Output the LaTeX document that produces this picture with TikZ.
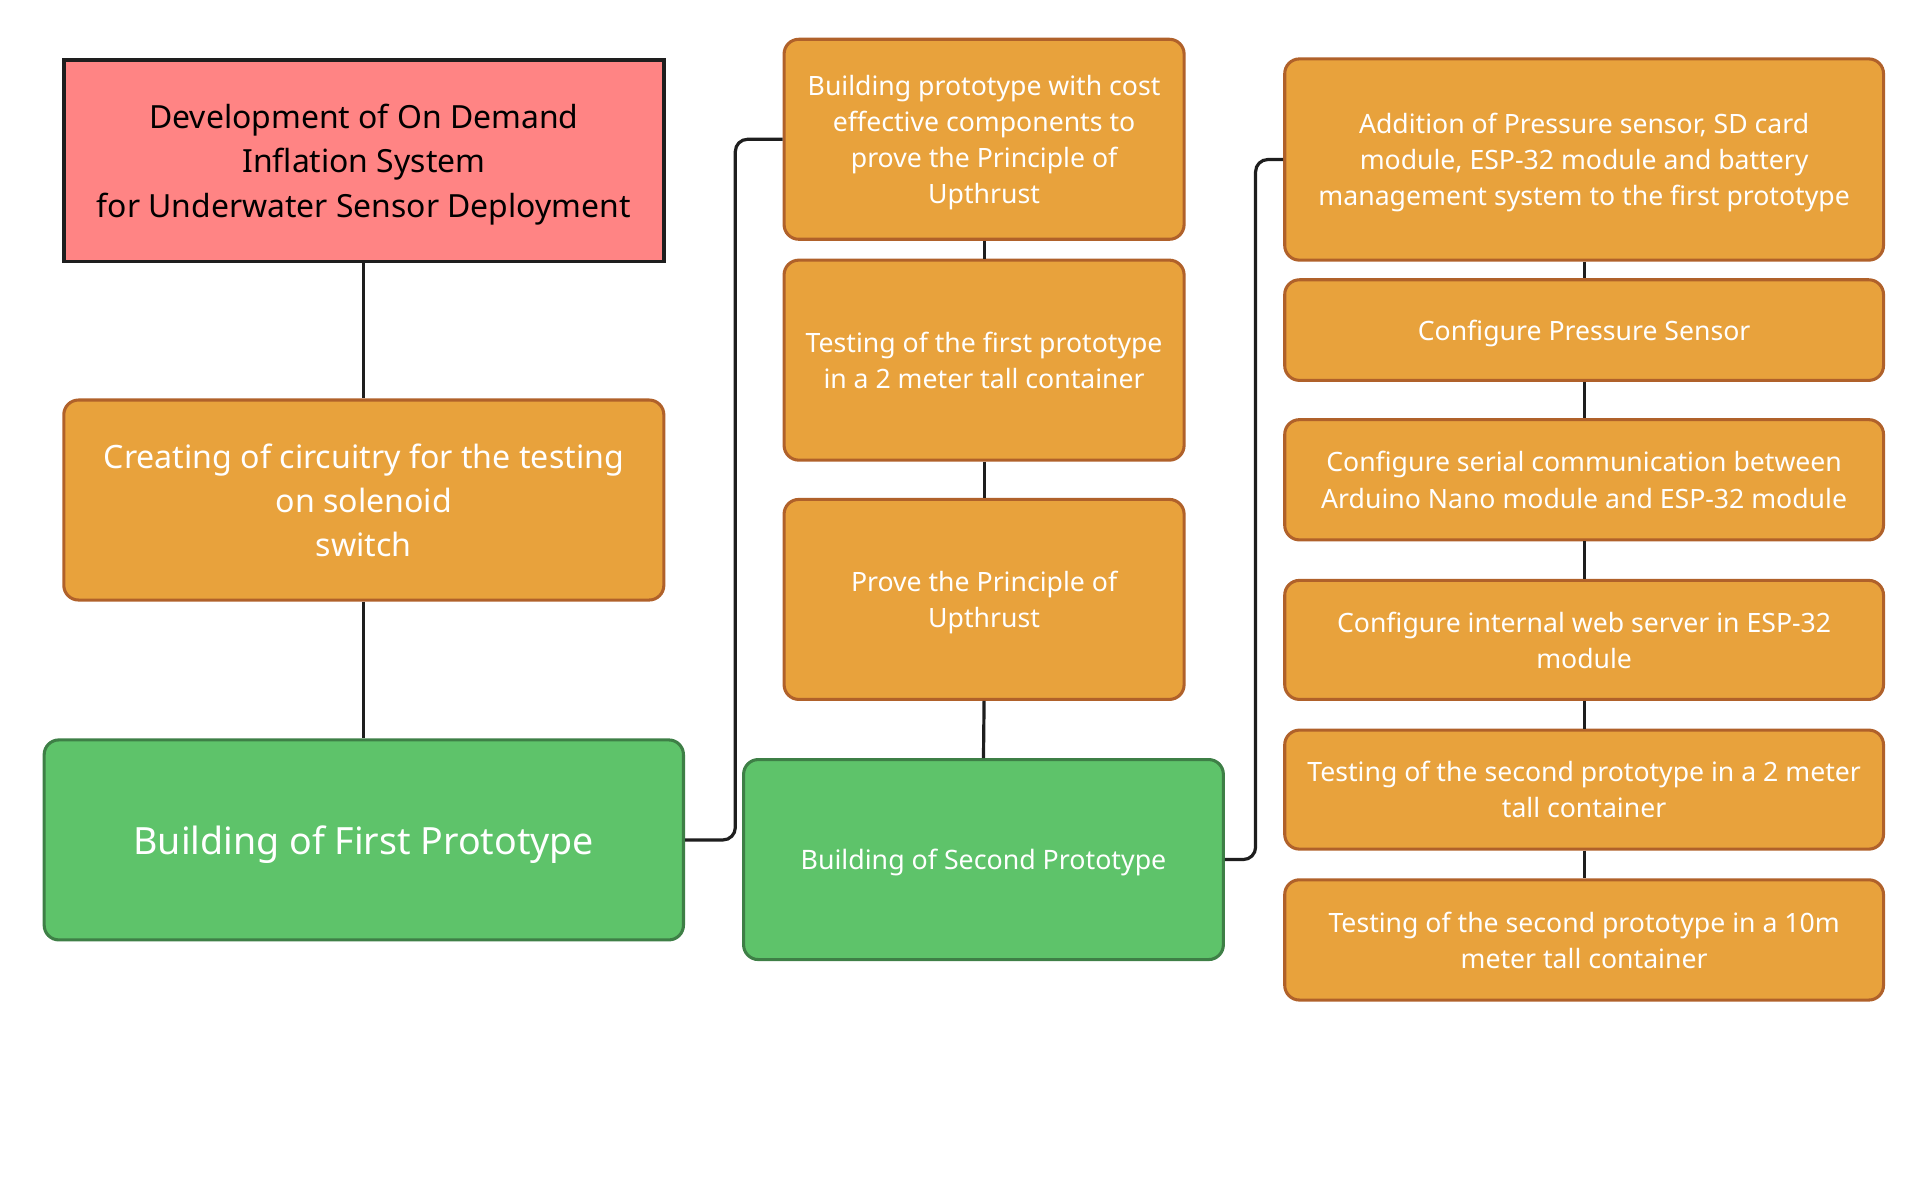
\documentclass[tikz,border=0pt]{standalone}
\usepackage{fontspec}
\setmainfont{Noto Sans}
\usetikzlibrary{calc}
\definecolor{rootred}{HTML}{FF8484}
\definecolor{taskorange}{HTML}{E8A23C}
\definecolor{taskedge}{HTML}{B0612A}
\definecolor{stagegreen}{HTML}{5EC36A}
\definecolor{stageedge}{HTML}{3E7F46}
\definecolor{linkblack}{HTML}{1E1E1E}
\tikzset{
	rootbox/.style={draw=linkblack, fill=rootred, line width=3pt, align=center, text=black,
		text depth=0pt, font=\fontsize{26}{36}\selectfont},
	taskbox/.style={draw=taskedge, fill=taskorange, line width=2.5pt, rounded corners=12pt,
		align=center, text=white, text depth=0pt, font=\fontsize{21.7}{29.5}\selectfont},
	stagebox/.style={draw=stageedge, fill=stagegreen, line width=2.5pt, rounded corners=12pt,
		align=center, text=white, text depth=0pt},
	link/.style={draw=linkblack, line width=2.6pt, rounded corners=10pt},
}
\begin{document}
\begin{tikzpicture}[x=1pt,y=-1pt]
			\useasboundingbox (0,0) rectangle (1568,962);
			% first column
			\node[rootbox, minimum width=489pt, minimum height=164pt] (root) at (296.5,131)
				{Development of On Demand\\Inflation System\\for Underwater Sensor Deployment};
			\node[taskbox, minimum width=489pt, minimum height=163pt, font=\fontsize{26.2}{36}\selectfont] (circ) at (296.5,407.5)
				{Creating of circuitry for the testing\\on solenoid\\switch};
			\node[stagebox, minimum width=521pt, minimum height=163pt, font=\fontsize{30.6}{40}\selectfont] (first) at (296.5,684.5)
				{Building of First Prototype};
			% second column
			\node[taskbox, minimum width=326pt, minimum height=163pt] (b1) at (802,113.5)
				{Building prototype with cost\\effective components to\\prove the Principle of\\Upthrust};
			\node[taskbox, minimum width=326pt, minimum height=163pt] (b2) at (802,293.5)
				{Testing of the first prototype\\in a 2 meter tall container};
			\node[taskbox, minimum width=326pt, minimum height=163pt] (b3) at (802,488.5)
				{Prove the Principle of\\Upthrust};
			\node[stagebox, minimum width=391pt, minimum height=163pt, font=\fontsize{21.8}{29.5}\selectfont] (second) at (801.5,700.5)
				{Building of Second Prototype};
			% third column
			\node[taskbox, minimum width=488pt, minimum height=164pt] (c1) at (1291,130)
				{Addition of Pressure sensor, SD card\\module, ESP-32 module and battery\\management system to the first prototype};
			\node[taskbox, minimum width=488pt, minimum height=82pt] (c2) at (1291,269)
				{Configure Pressure Sensor};
			\node[taskbox, minimum width=488pt, minimum height=98pt] (c3) at (1291,391)
				{Configure serial communication between\\Arduino Nano module and ESP-32 module};
			\node[taskbox, minimum width=488pt, minimum height=97pt] (c4) at (1291,521.5)
				{Configure internal web server in ESP-32\\module};
			\node[taskbox, minimum width=488pt, minimum height=97pt] (c5) at (1291,643.5)
				{Testing of the second prototype in a 2 meter\\tall container};
			\node[taskbox, minimum width=488pt, minimum height=98pt] (c6) at (1291,766)
				{Testing of the second prototype in a 10m\\meter tall container};
			% links
			\draw[link] (root.south) -- (circ.north);
			\draw[link] (circ.south) -- (first.north);
			\draw[link] (first.east) -- ++(41,0) |- (b1.west);
			\draw[link] (b1.south) -- (b2.north);
			\draw[link] (b2.south) -- (b3.north);
			\draw[link] (b3.south) -- (second.north);
			\draw[link] (second.east) -- ++(25,0) |- (c1.west);
			\foreach \u/\v in {c1/c2,c2/c3,c3/c4,c4/c5,c5/c6} \draw[link] (\u.south) -- (\v.north);
		\end{tikzpicture}
\end{document}
